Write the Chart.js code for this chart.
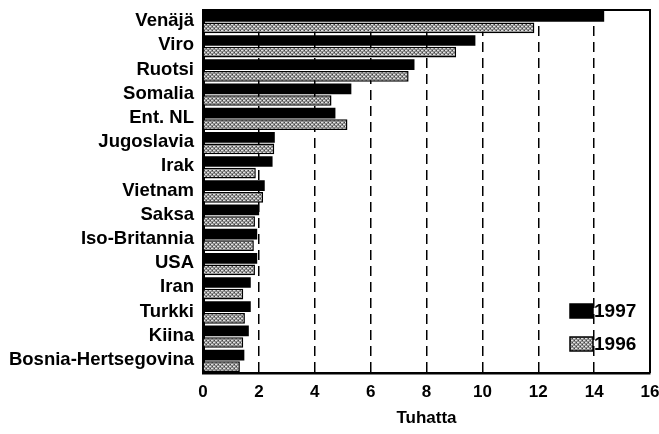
<!DOCTYPE html>
<html>
<head>
<meta charset="utf-8">
<script src="https://cdn.jsdelivr.net/npm/chart.js@4.4.1/dist/chart.umd.min.js"></script>
<style>
  html, body { margin: 0; padding: 0; background: #fff; }
  #wrap { width: 659px; height: 434px; position: relative; }
</style>
</head>
<body>
<div id="wrap"><canvas id="c" width="659" height="434"></canvas></div>
<script>
const categories = ['Venäjä','Viro','Ruotsi','Somalia','Ent. NL','Jugoslavia','Irak','Vietnam','Saksa','Iso-Britannia','USA','Iran','Turkki','Kiina','Bosnia-Hertsegovina'];
const values1997 = [14.36, 9.75, 7.57, 5.31, 4.74, 2.57, 2.49, 2.21, 2.01, 1.94, 1.94, 1.71, 1.71, 1.64, 1.48];
const values1996 = [11.86, 9.06, 7.36, 4.6, 5.17, 2.55, 1.89, 2.15, 1.86, 1.82, 1.86, 1.44, 1.5, 1.44, 1.32];
const xTickValues = [0, 2, 4, 6, 8, 10, 12, 14, 16];
const seriesLabels = ['1997', '1996'];
const axisTitle = 'Tuhatta';

function makePattern() {
  const p = document.createElement('canvas');
  p.width = 4; p.height = 4;
  const g = p.getContext('2d');
  g.fillStyle = '#8c8c8c';
  g.fillRect(0, 0, 4, 4);
  g.fillStyle = '#e0e0e0';
  g.fillRect(0, 0, 1, 1); g.fillRect(2, 2, 1, 1); g.fillRect(1, 2, 1, 1); g.fillRect(3, 0, 1, 1);
  g.fillStyle = '#444';
  g.fillRect(2, 0, 1, 1); g.fillRect(0, 2, 1, 1);
  return g.createPattern(p, 'repeat');
}
const canvas = document.getElementById('c');
const grayPattern = makePattern();

const frameAndLegend = {
  id: 'frameAndLegend',
  afterDraw(chart) {
    const {ctx, chartArea: a} = chart;
    ctx.save();
    ctx.strokeStyle = '#000';
    ctx.lineWidth = 2;
    ctx.beginPath();
    ctx.moveTo(a.left, a.top);
    ctx.lineTo(a.right, a.top);
    ctx.lineTo(a.right, a.bottom);
    ctx.stroke();
    // legend
    const items = chart.data.datasets;
    const ys = [a.bottom - 62, a.bottom - 29];
    ctx.font = 'bold 19px "Liberation Sans", Arial, sans-serif';
    ctx.textBaseline = 'middle';
    ctx.textAlign = 'left';
    items.forEach((ds, i) => {
      const y = ys[i];
      ctx.fillStyle = ds.backgroundColor;
      ctx.fillRect(a.right - 80, y - 7, 23, 14);
      ctx.lineWidth = 1.5;
      ctx.strokeStyle = '#000';
      ctx.strokeRect(a.right - 80, y - 7, 23, 14);
      ctx.fillStyle = '#000';
      ctx.fillText(ds.label, a.right - 56, y + 1);
    });
    ctx.restore();
  }
};

new Chart(canvas, {
  type: 'bar',
  data: {
    labels: categories,
    datasets: [
      { label: seriesLabels[0], data: values1997, backgroundColor: '#000', borderColor: '#000', borderWidth: 0,
        barPercentage: 0.92, categoryPercentage: 0.96 },
      { label: seriesLabels[1], data: values1996, backgroundColor: grayPattern, borderColor: '#000', borderWidth: 1.5,
        barPercentage: 0.92, categoryPercentage: 0.96 }
    ]
  },
  options: {
    indexAxis: 'y',
    responsive: false,
    animation: false,
    devicePixelRatio: 1,
    layout: { padding: { top: 10, right: 9, bottom: 0, left: 0 } },
    plugins: { legend: { display: false }, tooltip: { enabled: false } },
    scales: {
      x: {
        min: 0, max: 16,
        afterBuildTicks(scale) { scale.ticks = xTickValues.map(v => ({ value: v })); },
        afterFit(scale) { scale.height = 61; scale.paddingLeft = 0; scale.paddingRight = 0; },
        grid: {
          drawTicks: false,
          color: c => (c.tick && (c.tick.value === 0 || c.tick.value === 16)) ? 'rgba(0,0,0,0)' : '#000',
          lineWidth: 1.5
        },
        border: { display: true, color: '#000', width: 2.5, dash: [10, 6] },
        ticks: {
          color: '#000', padding: 9,
          font: { family: '"Liberation Sans", Arial, sans-serif', weight: 'bold', size: 17 }
        },
        title: {
          display: true, text: axisTitle, color: '#000',
          padding: { top: 0, bottom: 5 },
          font: { family: '"Liberation Sans", Arial, sans-serif', weight: 'bold', size: 17 }
        }
      },
      y: {
        afterFit(scale) { scale.width = 203; scale.paddingTop = 0; scale.paddingBottom = 0; },
        grid: { display: false, drawTicks: false },
        border: { display: true, color: '#000', width: 3 },
        ticks: {
          color: '#000', padding: 9, labelOffset: -1, autoSkip: false,
          font: { family: '"Liberation Sans", Arial, sans-serif', weight: 'bold', size: 18.5 }
        }
      }
    }
  },
  plugins: [frameAndLegend]
});
</script>
</body>
</html>
